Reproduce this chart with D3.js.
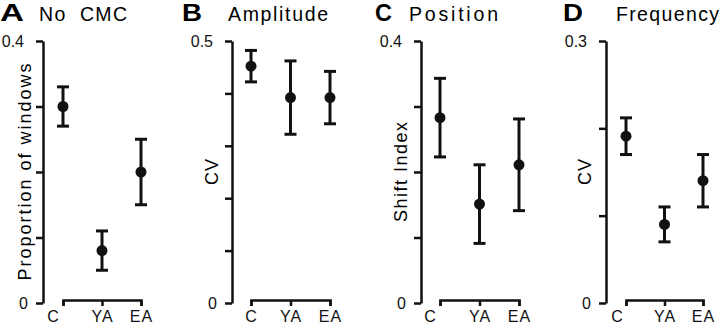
<!DOCTYPE html>
<html>
<head>
<meta charset="utf-8">
<script src="https://cdn.jsdelivr.net/npm/d3@7"></script>
<style>
  body { margin: 0; background: #fff; }
  svg { display: block; font-family: "Liberation Sans", Arial, sans-serif; }
</style>
</head>
<body>
<div id="wrapper"></div>
<script>
// data
const groups = ["C", "YA", "EA"];
const panelLetters = ["A", "B", "C", "D"];
const panelTitles = ["No  CMC", "Amplitude", "Position", "Frequency"];
const yLabels = ["Proportion of windows", "CV", "Shift Index", "CV"];
const yMax = [0.4, 0.5, 0.4, 0.3];
const yTickLabels = [["0", "0.4"], ["0", "0.5"], ["0", "0.4"], ["0", "0.3"]];

const meansA = [0.30, 0.08, 0.20];
const errA = [0.03, 0.03, 0.05];
const meansB = [0.452, 0.392, 0.392];
const errB = [0.03, 0.07, 0.05];
const meansC = [0.283, 0.151, 0.211];
const errC = [0.06, 0.06, 0.07];
const meansD = [0.191, 0.090, 0.140];
const errD = [0.021, 0.020, 0.030];

const allMeans = [meansA, meansB, meansC, meansD];
const allErr = [errA, errB, errC, errD];

// layout
const width = 720, height = 324;
const yTop = 41, yBottom = 303;
const axisX = [43, 232, 421, 606];
const xFirst = [63, 251, 440, 626];
const xLast = [141, 330, 519, 703];
const letterX = [0, 182, 375, 563];
const letterW = [24, 20, 17, 20];
const titleX = [39, 228, 409, 616];
const titleW = [88, 100, 89, 103];
const yLabelX = [31, 218, 407, 591];
const yLabelW = [217, 26, 100, 26];
const cShift = [-10, 0, -10, -9];

const svg = d3.select("#wrapper")
  .append("svg")
  .attr("width", width)
  .attr("height", height)

panelLetters.forEach((letter, i) => {
  const g = svg.append("g")

  const yScale = d3.scaleLinear()
    .domain([0, yMax[i]])
    .range([yBottom, yTop])

  const xScale = d3.scalePoint()
    .domain(groups)
    .range([xFirst[i], xLast[i]])

  // title
  g.append("text")
    .attr("x", letterX[i])
    .attr("y", 21)
    .attr("textLength", letterW[i])
    .attr("lengthAdjust", "spacingAndGlyphs")
    .style("font-size", "23px")
    .style("font-weight", "bold")
    .text(letter)

  g.append("text")
    .attr("x", titleX[i])
    .attr("y", 21)
    .attr("textLength", titleW[i])
    .style("font-size", "19.5px")
    .style("white-space", "pre")
    .text(panelTitles[i])

  // y axis
  const ticks = d3.range(0, yMax[i] + 1e-9, 0.1)
  const yAxis = g.append("g")
    .attr("transform", `translate(${axisX[i]},0)`)
    .call(d3.axisLeft(yScale)
      .tickValues(ticks)
      .tickSize(7)
      .tickSizeOuter(0)
      .tickPadding(8)
      .tickFormat(d => {
        if (Math.abs(d) < 1e-9) return yTickLabels[i][0]
        if (Math.abs(d - yMax[i]) < 1e-9) return yTickLabels[i][1]
        return ""
      }))
  yAxis.selectAll("path, line").attr("stroke", "#111").attr("stroke-width", 2.5)
  yAxis.selectAll("text")
    .attr("fill", "#111")
    .style("font-size", "16px")
    .attr("dx", d => d > 0 ? -4 : 0)

  g.append("text")
    .attr("transform", `translate(${yLabelX[i]},${(yTop + yBottom) / 2}) rotate(-90)`)
    .attr("text-anchor", "middle")
    .attr("textLength", yLabelW[i])
    .style("font-size", "18px")
    .text(yLabels[i])

  // x bracket
  const xAxis = g.append("g")
    .attr("transform", `translate(0,300)`)
    .call(d3.axisBottom(xScale).tickSize(6).tickSizeOuter(6).tickPadding(5))
  xAxis.selectAll("path, line").attr("stroke", "#111").attr("stroke-width", 2.5)
  xAxis.selectAll("text")
    .attr("fill", "#111")
    .style("font-size", "16px")
    .style("letter-spacing", "1px")
    .attr("dx", d => d === "C" ? cShift[i] : 0)

  // error bars and means
  const rows = groups.map((k, j) => ({ key: k, mean: allMeans[i][j], err: allErr[i][j] }))
  const capW = 6

  const bars = g.append("g")
    .attr("stroke", "#111")
    .attr("stroke-width", 3)
    .selectAll("g")
    .data(rows)
    .join("g")

  bars.append("line")
    .attr("x1", d => xScale(d.key))
    .attr("x2", d => xScale(d.key))
    .attr("y1", d => yScale(d.mean + d.err))
    .attr("y2", d => yScale(d.mean - d.err))

  bars.append("line")
    .attr("x1", d => xScale(d.key) - capW)
    .attr("x2", d => xScale(d.key) + capW)
    .attr("y1", d => yScale(d.mean + d.err))
    .attr("y2", d => yScale(d.mean + d.err))

  bars.append("line")
    .attr("x1", d => xScale(d.key) - capW)
    .attr("x2", d => xScale(d.key) + capW)
    .attr("y1", d => yScale(d.mean - d.err))
    .attr("y2", d => yScale(d.mean - d.err))

  g.append("g")
    .selectAll("circle")
    .data(rows)
    .join("circle")
    .attr("cx", d => xScale(d.key))
    .attr("cy", d => yScale(d.mean))
    .attr("r", 5.5)
    .attr("fill", "#111")
})
</script>
</body>
</html>
